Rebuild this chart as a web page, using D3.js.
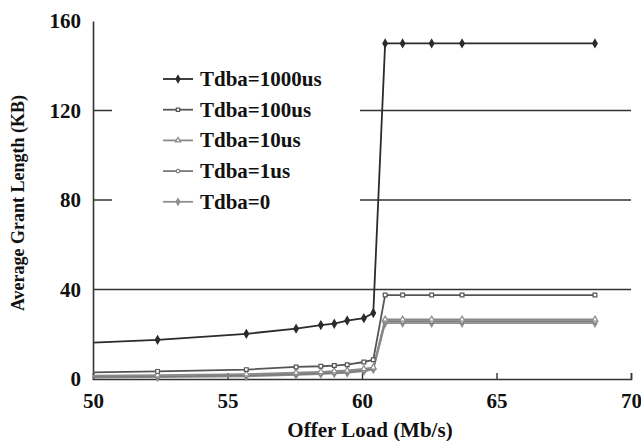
<!DOCTYPE html>
<html>
<head>
<meta charset="utf-8">
<script src="https://cdn.jsdelivr.net/npm/d3@7"></script>
<style>
    html, body { margin: 0; padding: 0; background: #ffffff; }
    svg { display: block; }
    svg text { font-family: "Liberation Serif", "DejaVu Serif", serif; font-weight: bold; fill: #111111; }
</style>
</head>
<body>
<svg id="chart"></svg>
<script>
// offer load (Mb/s), shared by all series
const offerLoad = [50, 52.4, 55.7, 57.55, 58.47, 58.97, 59.45, 60.07, 60.42, 60.86, 61.51, 62.59, 63.72, 68.66];

// average grant length (KB)
const tdba1000 = [16.3, 17.5, 20.2, 22.5, 24.1, 24.7, 26.1, 27.2, 29.5, 150, 150, 150, 150, 150];
const tdba100  = [3.0, 3.4, 4.2, 5.4, 5.7, 6.0, 6.4, 7.6, 8.6, 37.5, 37.5, 37.5, 37.5, 37.5];
const tdba10   = [1.5, 1.7, 2.2, 2.8, 3.2, 3.5, 3.8, 4.5, 5.2, 26.6, 26.6, 26.6, 26.6, 26.6];
const tdba1    = [1.0, 1.2, 1.6, 2.2, 2.6, 2.9, 3.2, 3.9, 4.7, 25.8, 25.8, 25.8, 25.8, 25.8];
const tdba0    = [0.6, 0.8, 1.2, 1.8, 2.2, 2.5, 2.8, 3.5, 4.3, 25.0, 25.0, 25.0, 25.0, 25.0];

const seriesNames = ['Tdba=1000us', 'Tdba=100us', 'Tdba=10us', 'Tdba=1us', 'Tdba=0'];
const xTicks = [50, 55, 60, 65, 70];
const yTicks = [0, 40, 80, 120, 160];
const gridValues = [40, 80, 120];

class GrantChart {
    constructor (selector) {
        this._selector = selector;
        this.w = 641;
        this.h = 441;
        this.svg = d3.select(selector)
            .attr('width', this.w)
            .attr('height', this.h);

        this.x = d3.scaleLinear().domain([50, 70]).range([93, 631]);
        this.y = d3.scaleLinear().domain([0, 160]).range([379, 21]);
    }
    makeSeries () {
        let values = [tdba1000, tdba100, tdba10, tdba1, tdba0];
        let styles = [
            { color: '#2b2b2b', symbol: d3.symbolDiamond,  fill: '#2b2b2b', size: 18 },
            { color: '#555555', symbol: d3.symbolSquare,   fill: '#ffffff', size: 14 },
            { color: '#8a8a8a', symbol: d3.symbolTriangle, fill: '#ffffff', size: 15 },
            { color: '#7a7a7a', symbol: d3.symbolCircle,   fill: '#ffffff', size: 13 },
            { color: '#8f8f8f', symbol: d3.symbolDiamond,  fill: '#8f8f8f', size: 16 },
        ];

        return seriesNames.map((name, i) => {
            return {
                name: name,
                style: styles[i],
                points: offerLoad.map((v, j) => { return { x: v, y: values[i][j], i: j }; }),
            };
        });
    }
    drawGrid () {
        let g = this.svg.append('g').attr('class', 'grid');

        g.selectAll('line')
            .data(gridValues)
            .enter()
            .append('line')
            .attr('x1', this.x(50))
            .attr('x2', this.x(70))
            .attr('y1', (d) => { return this.y(d); })
            .attr('y2', (d) => { return this.y(d); })
            .attr('stroke', '#333333')
            .attr('stroke-width', 1.6);
    }
    drawAxes () {
        let x = this.x;
        let y = this.y;

        let xAxis = this.svg.append('g')
            .attr('transform', 'translate(0,' + y(0) + ')')
            .call(d3.axisBottom(x).tickValues(xTicks).tickSize(-6).tickPadding(14).tickFormat(d3.format('d')));

        let yAxis = this.svg.append('g')
            .attr('transform', 'translate(' + x(50) + ',0)')
            .call(d3.axisLeft(y).tickValues(yTicks).tickSize(0).tickPadding(12).tickFormat(d3.format('d')));

        for (let axis of [xAxis, yAxis]) {
            axis.attr('font-family', null);
            axis.select('.domain').attr('stroke', '#333333').attr('stroke-width', 1.6);
            axis.selectAll('.tick line').attr('stroke', '#333333').attr('stroke-width', 1.4);
            axis.selectAll('.tick text')
                .attr('fill', '#111111')
                .style('font-size', '21px');
        }
        xAxis.selectAll('.tick').filter((d) => { return d === 50; }).select('line').remove();

        this.svg.append('text')
            .attr('x', 370)
            .attr('y', 437)
            .attr('text-anchor', 'middle')
            .style('font-size', '21px')
            .text('Offer Load (Mb/s)');

        this.svg.append('text')
            .attr('transform', 'translate(24,' + 203 + ') rotate(-90)')
            .attr('text-anchor', 'middle')
            .style('font-size', '18px')
            .text('Average Grant Length (KB)');
    }
    drawLegend (series) {
        let g = this.svg.append('g').attr('class', 'legend');

        g.append('rect')
            .attr('x', 112)
            .attr('y', 58)
            .attr('width', 248)
            .attr('height', 160)
            .attr('fill', '#ffffff');

        let rows = g.selectAll('g.row')
            .data(series)
            .enter()
            .append('g')
            .attr('class', 'row')
            .attr('transform', (d, i) => { return 'translate(0,' + (79 + i * 30.7) + ')'; });

        rows.append('line')
            .attr('x1', 163)
            .attr('x2', 193)
            .attr('stroke', (d) => { return d.style.color; })
            .attr('stroke-width', 1.8);

        rows.append('path')
            .attr('transform', 'translate(178,0)')
            .attr('d', (d) => { return d3.symbol().type(d.style.symbol).size(d.style.size * 0.8)(); })
            .attr('fill', (d) => { return d.style.fill; })
            .attr('stroke', (d) => { return d.style.color; })
            .attr('stroke-width', 1.2);

        rows.append('text')
            .attr('x', 200)
            .attr('y', 7)
            .style('font-size', '21px')
            .text((d) => { return d.name; });
    }
    drawSeries (series) {
        let line = d3.line()
            .x((d) => { return this.x(d.x); })
            .y((d) => { return this.y(d.y); });

        // draw lighter series first so the dark ones sit on top
        let ordered = series.slice().reverse();

        let g = this.svg.append('g').attr('class', 'series');

        let groups = g.selectAll('g.s')
            .data(ordered)
            .enter()
            .append('g')
            .attr('class', 's');

        groups.append('path')
            .attr('d', (d) => { return line(d.points); })
            .attr('fill', 'none')
            .attr('stroke', (d) => { return d.style.color; })
            .attr('stroke-width', 1.8);

        groups.each(function (d) {
            d3.select(this).selectAll('path.mark')
                .data(d.points.filter((p) => { return p.i > 0; }))
                .enter()
                .append('path')
                .attr('class', 'mark')
                .attr('transform', (p) => { return 'translate(' + chart.x(p.x) + ',' + chart.y(p.y) + ')'; })
                .attr('d', d3.symbol().type(d.style.symbol).size(d.style.size))
                .attr('fill', d.style.fill)
                .attr('stroke', d.style.color)
                .attr('stroke-width', 1.2);
        });
    }
    draw () {
        let series = this.makeSeries();

        this.drawGrid();
        this.drawAxes();
        this.drawSeries(series);
        this.drawLegend(series);
    }
}

const chart = new GrantChart('#chart');
chart.draw();
</script>
</body>
</html>
